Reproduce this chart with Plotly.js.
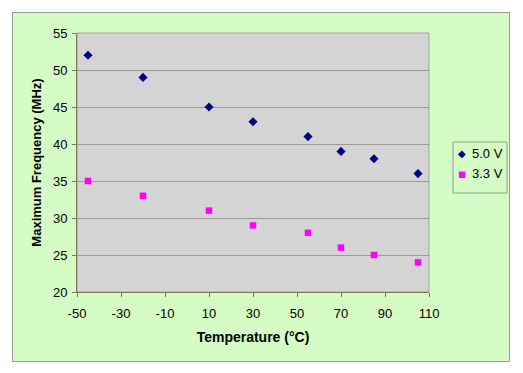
<!DOCTYPE html>
<html><head><meta charset="utf-8">
<script src="https://cdn.plot.ly/plotly-3.0.1.min.js"></script>
<style>
html,body{margin:0;padding:0;background:#fff;}
#chart{position:absolute;left:12px;top:12px;width:496px;height:348px;border:1px solid #9a9a9a;}
</style></head>
<body><div id="chart"></div>
<script>
const temperature = [-45, -20, 10, 30, 55, 70, 85, 105];
const freq50 = [52, 49, 45, 43, 41, 39, 38, 36];
const freq33 = [35, 33, 31, 29, 28, 26, 25, 24];
const seriesNames = ['5.0 V', '3.3 V'];
const seriesColors = ['#000080', '#ff00ff'];
const seriesGlyphs = ['◆', '■'];
const xTicks = [-50, -30, -10, 10, 30, 50, 70, 90, 110];
const xTickText = ['-50', '-30', '-10', '10', '30', '50', '70', '90', '110'];

const green = '#d4fcc4';
const data = [
  {x: temperature, y: freq50, name: seriesNames[0], type: 'scatter', mode: 'markers',
   marker: {symbol: 'diamond', size: 7, color: seriesColors[0]}},
  {x: temperature, y: freq33, name: seriesNames[1], type: 'scatter', mode: 'markers',
   marker: {symbol: 'square', size: 6.5, color: seriesColors[1]}}
];

// legend drawn as a box with glyph + text entries
const legRowY = [0.5355, 0.4568];
const glyphSizes = [10, 8.5];
const annotations = [];
seriesNames.forEach((n, i) => {
  annotations.push({xref: 'paper', yref: 'paper', x: 1.0938, y: legRowY[i], xanchor: 'center', yanchor: 'middle',
    text: seriesGlyphs[i], showarrow: false, font: {family: 'DejaVu Sans', size: glyphSizes[i], color: seriesColors[i]}});
  annotations.push({xref: 'paper', yref: 'paper', x: 1.1222, y: legRowY[i], xanchor: 'left', yanchor: 'middle',
    text: n, showarrow: false, font: {size: 13, color: '#000'}, xshift: -2});
});

const layout = {
  width: 496, height: 348,
  margin: {l: 64, r: 80, t: 20, b: 69, autoexpand: false},
  paper_bgcolor: green, plot_bgcolor: '#d4d4d4',
  font: {family: 'Liberation Sans, Arial, sans-serif', size: 13, color: '#000'},
  showlegend: false,
  xaxis: {range: [-50, 110], tickvals: xTicks, ticktext: xTickText, showgrid: false,
    zeroline: false, showline: true, linecolor: '#7a7a50', linewidth: 1,
    ticks: 'outside', ticklen: 4, tickcolor: '#7a7a50', ticklabelstandoff: 5,
    title: {text: '<b>Temperature (°C)</b>', font: {size: 14}, standoff: 12}},
  yaxis: {range: [20, 55], dtick: 5, tick0: 20, showgrid: true, gridcolor: '#999999', gridwidth: 1,
    zeroline: false, showline: true, linecolor: '#7a7a50', linewidth: 1,
    ticks: 'outside', ticklen: 4, tickcolor: '#7a7a50', ticklabelstandoff: 2,
    title: {text: '<b>Maximum Frequency (MHz)</b>', font: {size: 13}, standoff: 8}},
  annotations: annotations,
  shapes: [
    {type: 'rect', xref: 'paper', yref: 'paper', x0: 0, x1: 1, y0: 0, y1: 1,
     line: {color: '#a0a0a0', width: 1}, layer: 'below'},
    {type: 'rect', xref: 'paper', yref: 'paper', x0: 1.0682, x1: 1.2216, y0: 0.3822, y1: 0.5792,
     line: {color: '#9a9a9a', width: 1}, fillcolor: 'rgba(0,0,0,0)'}
  ]
};
Plotly.newPlot('chart', data, layout, {displayModeBar: false, staticPlot: true});
</script></body></html>
